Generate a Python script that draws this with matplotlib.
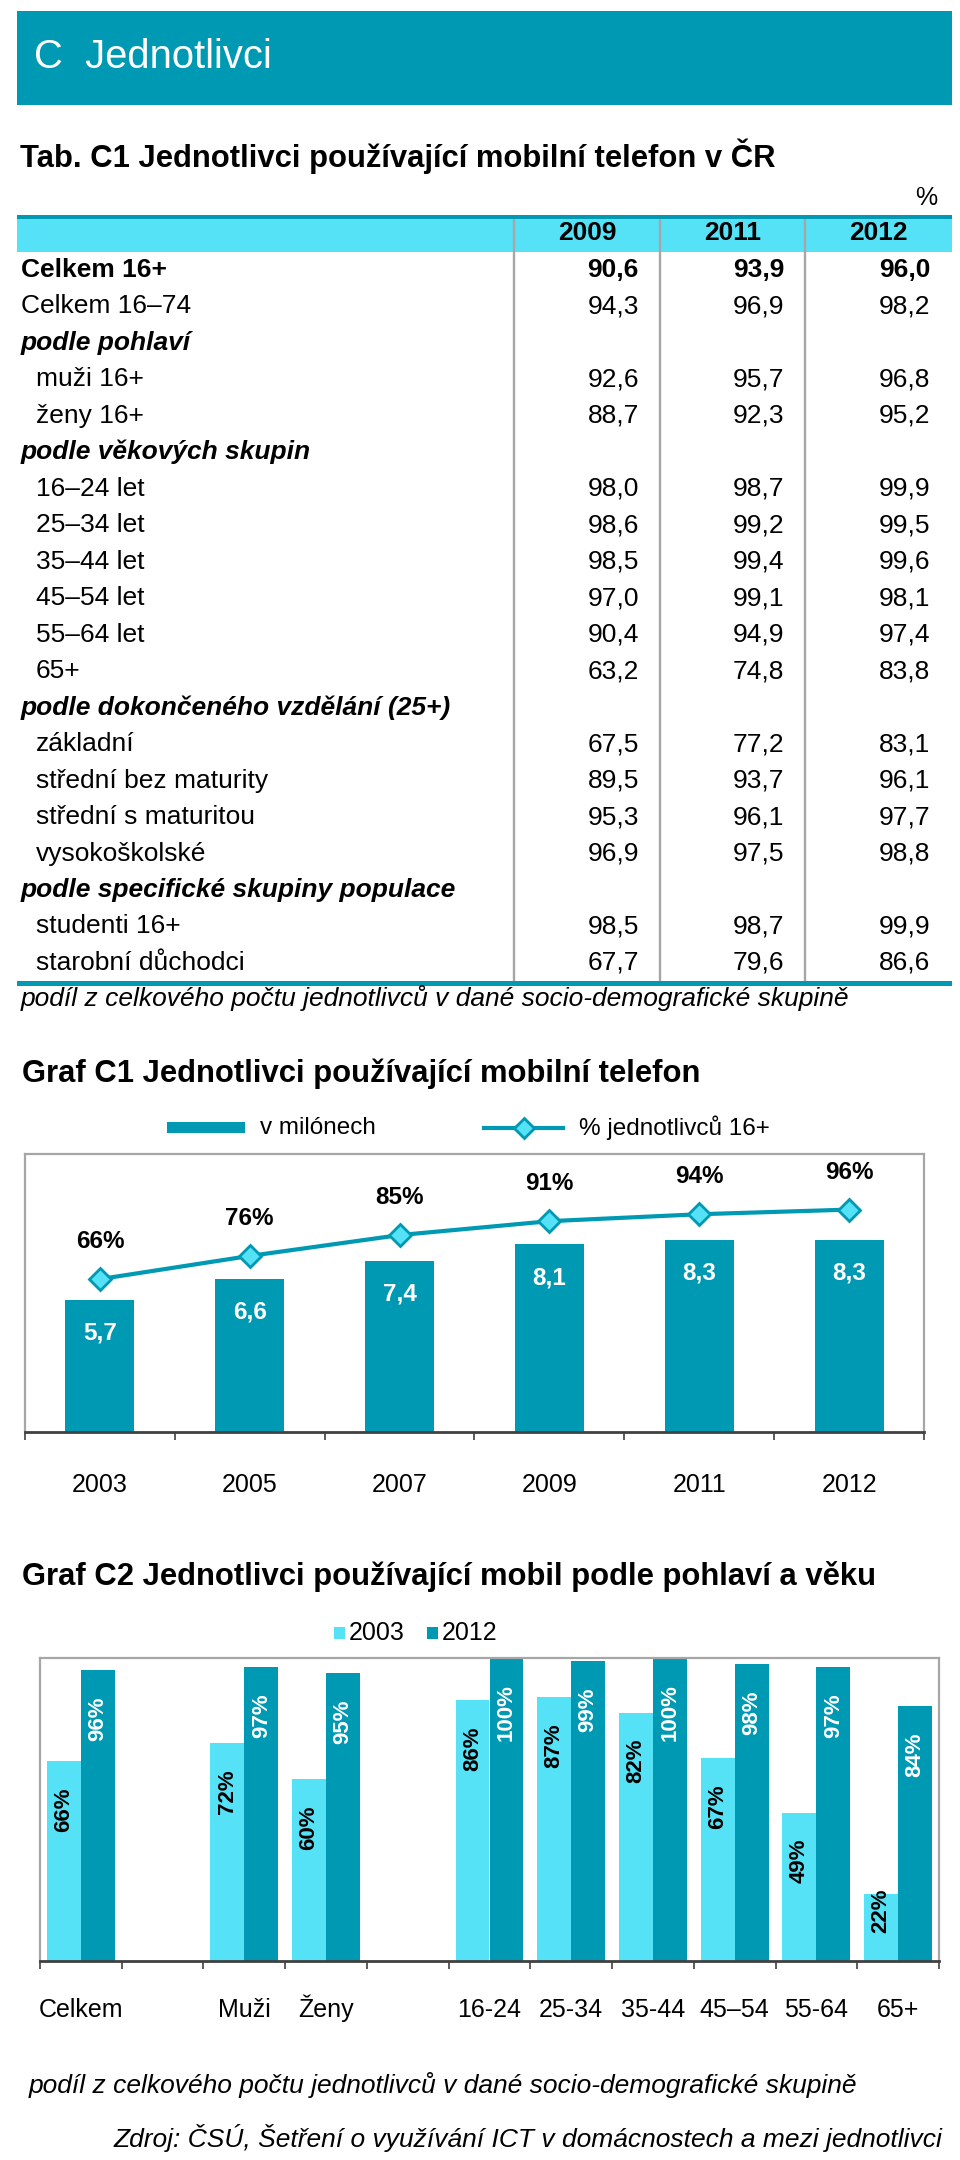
import matplotlib
matplotlib.use('Agg')
import matplotlib.pyplot as plt
from matplotlib.patches import Rectangle
from matplotlib.lines import Line2D

plt.rcParams['font.family'] = ['Liberation Sans', 'DejaVu Sans']

TEAL = '#0099B3'
CYAN = '#55E1F6'
GRAY = '#A6A6A6'
DARK = '#404040'

# --- data ---------------------------------------------------------------
tab_years = ['2009', '2011', '2012']
tab_labels = ['Celkem 16+', 'Celkem 16–74', 'podle pohlaví', 'muži 16+', 'ženy 16+',
              'podle věkových skupin', '16–24 let', '25–34 let', '35–44 let', '45–54 let',
              '55–64 let', '65+', 'podle dokončeného vzdělání (25+)', 'základní',
              'střední bez maturity', 'střední s maturitou', 'vysokoškolské',
              'podle specifické skupiny populace', 'studenti 16+', 'starobní důchodci']
tab_2009 = [90.6, 94.3, None, 92.6, 88.7, None, 98.0, 98.6, 98.5, 97.0, 90.4, 63.2,
            None, 67.5, 89.5, 95.3, 96.9, None, 98.5, 67.7]
tab_2011 = [93.9, 96.9, None, 95.7, 92.3, None, 98.7, 99.2, 99.4, 99.1, 94.9, 74.8,
            None, 77.2, 93.7, 96.1, 97.5, None, 98.7, 79.6]
tab_2012 = [96.0, 98.2, None, 96.8, 95.2, None, 99.9, 99.5, 99.6, 98.1, 97.4, 83.8,
            None, 83.1, 96.1, 97.7, 98.8, None, 99.9, 86.6]

c1_years = ['2003', '2005', '2007', '2009', '2011', '2012']
c1_millions = [5.7, 6.6, 7.4, 8.1, 8.3, 8.3]
c1_pct = [66, 76, 85, 91, 94, 96]

c2_groups = ['Celkem', '', 'Muži', 'Ženy', '', '16-24', '25-34', '35-44', '45–54', '55-64', '65+']
c2_2003 = [66, None, 72, 60, None, 86, 87, 82, 67, 49, 22]
c2_2012 = [96, None, 97, 95, None, 100, 99, 100, 98, 97, 84]

note = 'podíl z celkového počtu jednotlivců v dané socio-demografické skupině'
source = 'Zdroj: ČSÚ, Šetření o využívání ICT v domácnostech a mezi jednotlivci'

W, H = 960, 2160
fig = plt.figure(figsize=(W / 100, H / 100), dpi=100)


def fax(x0, y0, x1, y1):
    return [x0 / W, 1 - y1 / H, (x1 - x0) / W, (y1 - y0) / H]


def fmt(v):
    return f'{v:.1f}'.replace('.', ',')


# canvas in pixel coords for header, table and texts
cv = fig.add_axes([0, 0, 1, 1])
cv.set_xlim(0, W)
cv.set_ylim(H, 0)
cv.axis('off')

cv.add_patch(Rectangle((16.5, 11), 935, 94, color=TEAL, lw=0))
cv.text(34, 57, 'C  Jednotlivci', color='white', fontsize=28.8, va='center')

cv.text(20, 167, 'Tab. C1 Jednotlivci používající mobilní telefon v ČR',
        fontsize=22.3, fontweight='bold', va='baseline')
cv.text(937, 205, '%', fontsize=18, ha='right', va='baseline')

# table
cv.add_patch(Rectangle((16.5, 214.5), 935, 4, color=TEAL, lw=0))
cv.add_patch(Rectangle((16.5, 218.5), 935, 33.5, color=CYAN, lw=0))
cv.add_patch(Rectangle((16.5, 981), 935, 4.5, color=TEAL, lw=0))
col_edges = [514, 660, 805, 951]
cv.vlines(col_edges[:3], 218.5, 981, color=GRAY, lw=1.7)
for j, yr in enumerate(tab_years):
    cv.text((col_edges[j] + col_edges[j + 1]) / 2, 240, yr, fontsize=19,
            fontweight='bold', ha='center', va='baseline')

indent = False
for i, lab in enumerate(tab_labels):
    yb = 277 + i * 36.47
    vals = [tab_2009[i], tab_2011[i], tab_2012[i]]
    if vals[0] is None:
        cv.text(21, yb, lab, fontsize=19, fontweight='bold', style='italic', va='baseline')
        indent = True
        continue
    w = 'bold' if i == 0 else 'normal'
    cv.text(35.5 if indent else 21, yb, lab, fontsize=19, fontweight=w, va='baseline')
    for j, v in enumerate(vals):
        cv.text(col_edges[j + 1] - 21, yb, fmt(v), fontsize=19, fontweight=w,
                ha='right', va='baseline')

cv.text(21, 1006, note, fontsize=19, style='italic', va='baseline')

# --- Graf C1 -------------------------------------------------------------
cv.text(22, 1082, 'Graf C1 Jednotlivci používající mobilní telefon',
        fontsize=22.3, fontweight='bold', va='baseline')
cv.add_patch(Rectangle((167, 1122), 78, 11, color=TEAL, lw=0))
cv.text(260, 1128, 'v milónech', fontsize=17.5, va='center')
cv.add_line(Line2D([484, 563], [1128, 1128], color=TEAL, lw=3))
cv.plot([524], [1128], marker='D', ms=10.5, mfc=CYAN, mec=TEAL, mew=2)
cv.text(579, 1128, '% jednotlivců 16+', fontsize=17.5, va='center')

ax1 = fig.add_axes(fax(25, 1154, 924, 1432))
x1 = list(range(len(c1_years)))
ax1.bar(x1, c1_millions, width=0.46, color=TEAL, zorder=2)
ax1.set_xlim(-0.5, len(c1_years) - 0.5)
ax1.set_ylim(0, 12)
for x, v in zip(x1, c1_millions):
    ax1.annotate(fmt(v), (x, v), xytext=(0, -24), textcoords='offset points',
                 ha='center', va='center', color='white', fontsize=17.5, fontweight='bold')
ax1b = ax1.twinx()
ax1b.plot(x1, c1_pct, color=TEAL, lw=3, marker='D', ms=11, mfc=CYAN, mec=TEAL,
          mew=2, zorder=3)
ax1b.set_ylim(0, 120)
for x, v in zip(x1, c1_pct):
    ax1b.annotate(f'{v}%', (x, v), xytext=(0, 27), textcoords='offset points',
                  ha='center', va='center', fontsize=17.5, fontweight='bold')
ax1b.axis('off')
for s in ('top', 'left', 'right'):
    ax1.spines[s].set_color(GRAY)
    ax1.spines[s].set_linewidth(1.6)
ax1.spines['bottom'].set_color(DARK)
ax1.spines['bottom'].set_linewidth(2)
ax1.set_yticks([])
ax1.set_xticks([])
ax1.set_xticks([k - 0.5 for k in range(len(c1_years) + 1)], minor=True)
ax1.tick_params(axis='x', which='minor', length=6, width=1.2, color=DARK, direction='out')
for x, yr in zip(x1, c1_years):
    ax1.text(x, -60 / 278, yr, transform=ax1.get_xaxis_transform(), fontsize=18,
             ha='center', va='baseline')

# --- Graf C2 -------------------------------------------------------------
cv.text(22, 1585, 'Graf C2 Jednotlivci používající mobil podle pohlaví a věku',
        fontsize=22.3, fontweight='bold', va='baseline')
cv.add_patch(Rectangle((334, 1627), 10.5, 12, color=CYAN, lw=0))
cv.text(349, 1633, '2003', fontsize=18, va='center')
cv.add_patch(Rectangle((427, 1627), 10.5, 12, color=TEAL, lw=0))
cv.text(442, 1633, '2012', fontsize=18, va='center')

ax2 = fig.add_axes(fax(40, 1658, 939, 1961))
bw = 0.416
for k, (a, b) in enumerate(zip(c2_2003, c2_2012)):
    if a is None:
        continue
    ax2.bar(k - bw / 2, a, width=bw, color=CYAN, zorder=2)
    ax2.bar(k + bw / 2, b, width=bw, color=TEAL, zorder=2)
    for xc, v, col in ((k - bw / 2, a, 'black'), (k + bw / 2, b, 'white')):
        ax2.text(xc, max(v - 8.6, 24), f'{v}%', rotation=90, ha='center', va='top',
                 color=col, fontsize=16, fontweight='bold', zorder=3)
ax2.set_xlim(-0.5, len(c2_groups) - 0.5)
ax2.set_ylim(0, 100)
for s in ('top', 'left', 'right'):
    ax2.spines[s].set_color(GRAY)
    ax2.spines[s].set_linewidth(1.6)
ax2.spines['bottom'].set_color(DARK)
ax2.spines['bottom'].set_linewidth(2)
ax2.set_yticks([])
ax2.set_xticks([])
ax2.set_xticks([k - 0.5 for k in range(len(c2_groups) + 1)], minor=True)
ax2.tick_params(axis='x', which='minor', length=6, width=1.2, color=DARK, direction='out')
for k, g in enumerate(c2_groups):
    ax2.text(k, -56 / 303, g, transform=ax2.get_xaxis_transform(), fontsize=18,
             ha='center', va='baseline')

cv.text(29, 2093, note, fontsize=19, style='italic', va='baseline')
cv.text(942, 2147, source, fontsize=19, style='italic', ha='right', va='baseline')

fig.savefig('out.png', dpi=100)
